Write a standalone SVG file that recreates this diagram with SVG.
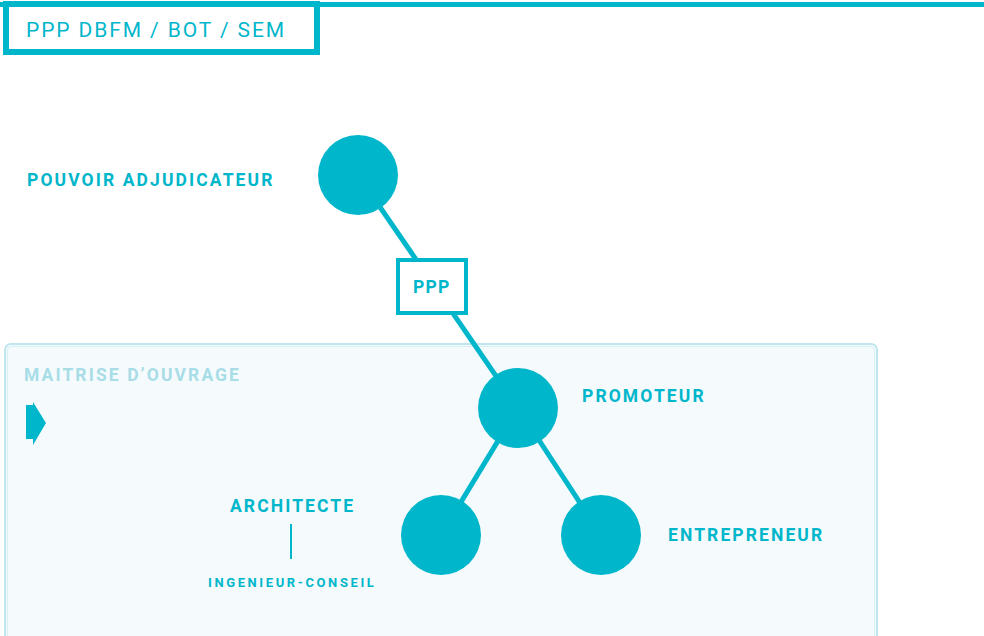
<svg xmlns="http://www.w3.org/2000/svg" width="984" height="636" viewBox="0 0 984 636">
  <style>
    .lbl { font-family: Roboto, "Liberation Sans", sans-serif; font-weight: 700; fill: #00b6cb; letter-spacing: 2.1px; font-size: 17.5px; }
    .small { font-size: 13px; letter-spacing: 2.6px; }
    .node { fill: #00b6cb; }
    .edge { stroke: #00b6cb; stroke-width: 5; fill: none; }
  </style>
  <rect width="984" height="636" fill="#ffffff"/>

  <!-- title bar -->
  <g id="title">
    <line x1="0" y1="4.5" x2="984" y2="4.5" stroke="#00b6cb" stroke-width="5"/>
    <rect x="6" y="4" width="311" height="48" fill="#ffffff" stroke="#00b6cb" stroke-width="6"/>
    <text x="26" y="37" font-family="Roboto, 'Liberation Sans', sans-serif" font-size="21" fill="#00b6cb" letter-spacing="1.9">PPP DBFM / BOT / SEM</text>
  </g>

  <!-- maitrise d'ouvrage panel -->
  <g id="panel">
    <rect x="5" y="344" width="872" height="300" rx="6" fill="#f5fbfd" stroke="#bfe6ee" stroke-width="2"/>
    <rect x="7.5" y="346.5" width="867" height="300" rx="4" fill="none" stroke="#d6f0f5" stroke-width="1"/>
    <text x="24" y="381" class="lbl" style="fill:#a8dde8">MAITRISE D’OUVRAGE</text>
    <polygon points="26,405 33,405 33,402 46,423 33,445 33,439 26,439" fill="#00b6cb"/>
  </g>

  <!-- connectors -->
  <g id="connectors">
    <line class="edge" x1="358" y1="175" x2="518" y2="408"/>
    <line class="edge" x1="518" y1="408" x2="441" y2="535"/>
    <line class="edge" x1="518" y1="408" x2="601" y2="535"/>
    <line x1="291" y1="524" x2="291" y2="559" stroke="#00b6cb" stroke-width="2"/>
  </g>

  <g id="pouvoir">
    <circle class="node" cx="358" cy="175" r="40"/>
    <text x="27" y="186" class="lbl">POUVOIR ADJUDICATEUR</text>
  </g>

  <g id="ppp">
    <rect x="398" y="260" width="68" height="53" fill="#ffffff" stroke="#00b6cb" stroke-width="4"/>
    <text x="413" y="293" class="lbl" style="letter-spacing:1.2px">PPP</text>
  </g>

  <g id="promoteur">
    <circle class="node" cx="518" cy="408" r="40"/>
    <text x="582" y="402" class="lbl">PROMOTEUR</text>
  </g>

  <g id="architecte">
    <circle class="node" cx="441" cy="535" r="40"/>
    <text x="230" y="512" class="lbl">ARCHITECTE</text>
    <text x="208" y="587" class="lbl small">INGENIEUR-CONSEIL</text>
  </g>

  <g id="entrepreneur">
    <circle class="node" cx="601" cy="535" r="40"/>
    <text x="668" y="541" class="lbl">ENTREPRENEUR</text>
  </g>
</svg>
